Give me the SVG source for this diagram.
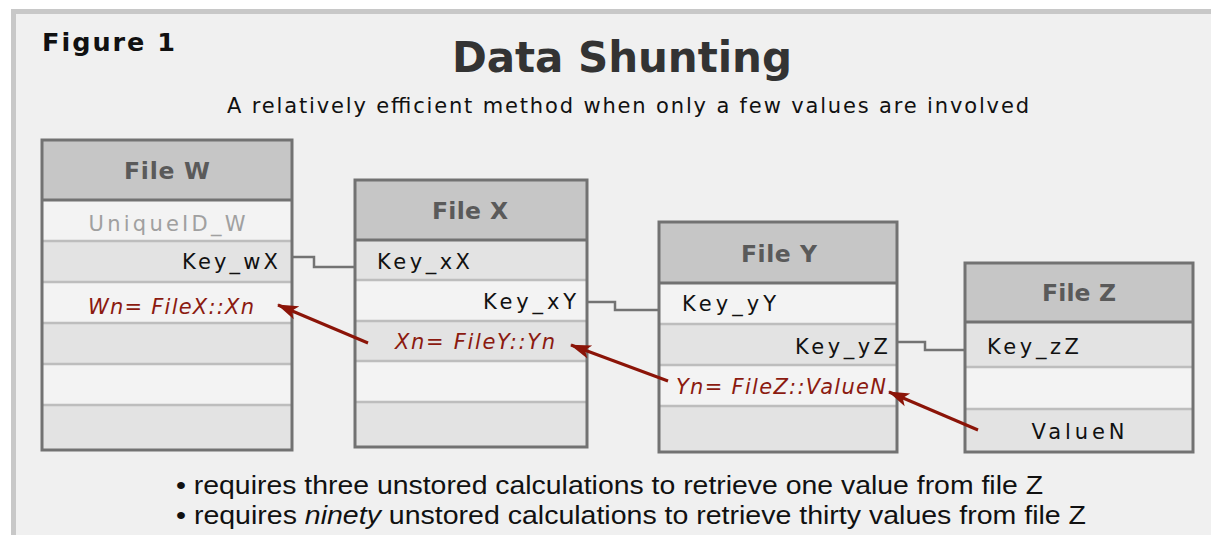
<svg xmlns="http://www.w3.org/2000/svg" width="1211" height="535" viewBox="0 0 1211 535">
<defs>
<style>
.hdr{fill:#c6c6c6}
.lt{fill:#f3f3f3}
.dk{fill:#e3e3e3}
.sep{stroke:#bdbdbd;stroke-width:2.5}
.box{fill:none;stroke:#727272;stroke-width:3}
.ht{font-family:"DejaVu Sans",Verdana,sans-serif;font-weight:bold;font-size:23.5px;fill:#5a5a5a;text-anchor:middle}
.kt{font-family:"DejaVu Sans",Verdana,sans-serif;font-size:21px;fill:#111}
.ct{font-family:"DejaVu Sans",Verdana,sans-serif;font-size:21px;font-style:italic;fill:#8b1a10}
.con{fill:none;stroke:#737373;stroke-width:2.5}
.arr{fill:none;stroke:#8b1408;stroke-width:3}
.bul{font-family:"Liberation Sans",Arial,sans-serif;font-size:25px;fill:#111}
</style>
<marker id="ah" markerUnits="userSpaceOnUse" markerWidth="24" markerHeight="16" refX="20" refY="8" orient="auto">
<path d="M0,1 L21,8 L0,15 L5,8 Z" fill="#8b1408"/>
</marker>
</defs>
<rect x="0" y="0" width="1211" height="535" fill="#ffffff"/>
<rect x="13.5" y="11.5" width="1220" height="540" fill="#f0f0f0" stroke="#c8c8c8" stroke-width="5"/>

<text x="42" y="51" textLength="133" font-family="DejaVu Sans,Verdana,sans-serif" font-weight="bold" font-size="25.5" fill="#111">Figure 1</text>
<text x="622" y="72" text-anchor="middle" textLength="340" font-family="DejaVu Sans,Verdana,sans-serif" font-weight="bold" font-size="42" fill="#333">Data Shunting</text>
<text x="628" y="113" text-anchor="middle" textLength="802" font-family="DejaVu Sans,Verdana,sans-serif" font-size="21" fill="#111">A relatively efficient method when only a few values are involved</text>

<g id="fileW">
<rect x="42" y="140" width="250" height="60" class="hdr"/>
<rect x="42" y="200" width="250" height="41" class="lt"/>
<rect x="42" y="241" width="250" height="41" class="dk"/>
<rect x="42" y="282" width="250" height="41" class="lt"/>
<rect x="42" y="323" width="250" height="41" class="dk"/>
<rect x="42" y="364" width="250" height="41" class="lt"/>
<rect x="42" y="405" width="250" height="45" class="dk"/>
<path d="M42,241H292M42,282H292M42,323H292M42,364H292M42,405H292" class="sep"/>
<path d="M42,200H292" stroke="#727272" stroke-width="3"/>
<rect x="42" y="140" width="250" height="310" class="box"/>
<text x="167" y="179" class="ht" textLength="86">File W</text>
<text x="167" y="231" class="kt" text-anchor="middle" textLength="157" style="fill:#a0a0a0">UniqueID_W</text>
<text x="278" y="269" class="kt" text-anchor="end" textLength="96">Key_wX</text>
<text x="171" y="314" class="ct" text-anchor="middle" textLength="166">Wn= FileX::Xn</text>
</g>

<g id="fileX">
<rect x="355" y="180" width="232" height="60" class="hdr"/>
<rect x="355" y="240" width="232" height="40" class="dk"/>
<rect x="355" y="280" width="232" height="41" class="lt"/>
<rect x="355" y="321" width="232" height="40" class="dk"/>
<rect x="355" y="361" width="232" height="41" class="lt"/>
<rect x="355" y="402" width="232" height="45" class="dk"/>
<path d="M355,280H587M355,321H587M355,361H587M355,402H587" class="sep"/>
<path d="M355,240H587" stroke="#727272" stroke-width="3"/>
<rect x="355" y="180" width="232" height="267" class="box"/>
<text x="470" y="219" class="ht" textLength="76">File X</text>
<text x="377" y="269" class="kt" textLength="93">Key_xX</text>
<text x="576" y="309" class="kt" text-anchor="end" textLength="93">Key_xY</text>
<text x="475" y="349" class="ct" text-anchor="middle" textLength="160">Xn= FileY::Yn</text>
</g>

<g id="fileY">
<rect x="659" y="222" width="238" height="61" class="hdr"/>
<rect x="659" y="283" width="238" height="41" class="lt"/>
<rect x="659" y="324" width="238" height="41" class="dk"/>
<rect x="659" y="365" width="238" height="41" class="lt"/>
<rect x="659" y="406" width="238" height="46" class="dk"/>
<path d="M659,324H897M659,365H897M659,406H897" class="sep"/>
<path d="M659,283H897" stroke="#727272" stroke-width="3"/>
<rect x="659" y="222" width="238" height="230" class="box"/>
<text x="779" y="262" class="ht" textLength="76">File Y</text>
<text x="682" y="311" class="kt" textLength="94">Key_yY</text>
<text x="888" y="354" class="kt" text-anchor="end" textLength="93">Key_yZ</text>
<text x="676" y="394" class="ct" textLength="210">Yn= FileZ::ValueN</text>
</g>

<g id="fileZ">
<rect x="965" y="263" width="228" height="59" class="hdr"/>
<rect x="965" y="322" width="228" height="45" class="dk"/>
<rect x="965" y="367" width="228" height="42" class="lt"/>
<rect x="965" y="409" width="228" height="43" class="dk"/>
<path d="M965,367H1193M965,409H1193" class="sep"/>
<path d="M965,322H1193" stroke="#727272" stroke-width="3"/>
<rect x="965" y="263" width="228" height="189" class="box"/>
<text x="1079" y="301" class="ht" textLength="74">File Z</text>
<text x="987" y="354" class="kt" textLength="92">Key_zZ</text>
<text x="1078" y="439" class="kt" text-anchor="middle" textLength="93">ValueN</text>
</g>

<g id="connectors">
<path d="M293,257H314V267H354" class="con"/>
<path d="M588,302H615V310H658" class="con"/>
<path d="M898,342H925V350H964" class="con"/>
<path d="M368,343L278,305" class="arr" marker-end="url(#ah)"/>
<path d="M668,381L571,345" class="arr" marker-end="url(#ah)"/>
<path d="M978,430L889,392" class="arr" marker-end="url(#ah)"/>
</g>

<g id="notes">
<text x="176" y="494" class="bul" textLength="867" lengthAdjust="spacingAndGlyphs">• requires three unstored calculations to retrieve one value from file Z</text>
<text x="176" y="524" class="bul" textLength="910" lengthAdjust="spacingAndGlyphs">• requires <tspan font-style="italic">ninety</tspan> unstored calculations to retrieve thirty values from file Z</text>
</g>
</svg>
